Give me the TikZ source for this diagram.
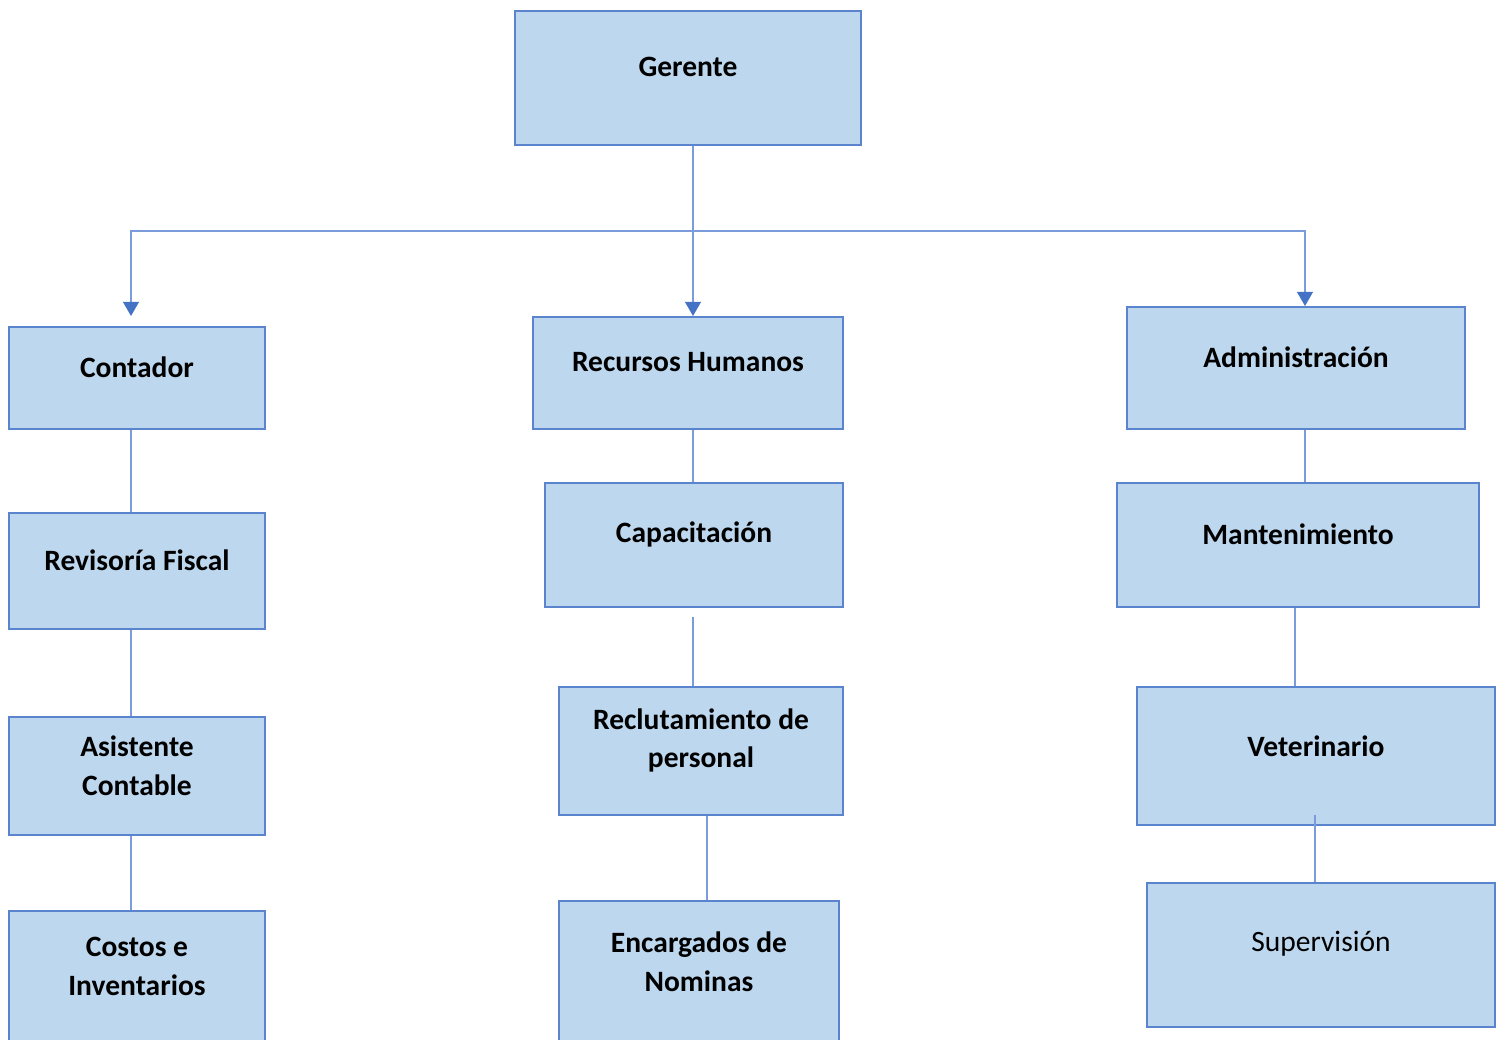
\documentclass[tikz,border=0pt]{standalone}
\usepackage{fontspec}
\setmainfont{Carlito}
\usepackage{tikz}
\usetikzlibrary{arrows.meta}
\definecolor{boxfill}{HTML}{BDD7EE}
\definecolor{boxline}{HTML}{5B84CF}
\definecolor{linkline}{HTML}{7B9CDA}
\definecolor{tipcol}{HTML}{4472C4}
\tikzset{
	orgbox/.style={draw=boxline, fill=boxfill, line width=0.85pt, inner sep=0pt},
	boxtext/.style={font=\fontsize{16.8}{22}\selectfont\bfseries, align=center, inner sep=0pt},
	plaintext/.style={font=\fontsize{16.8}{22}\selectfont, align=center, inner sep=0pt},
	link/.style={draw=linkline, line width=0.85pt},
	arr/.style={link, -{Triangle[width=9pt,length=8pt,color=tipcol]}}
}

\begin{document}
\begin{tikzpicture}[x=0.02cm, y=-0.02cm]
	\useasboundingbox (0,0) rectangle (1499,1040);
	\clip (0,0) rectangle (1499,1040);
	% top
	\node[orgbox, minimum width=6.92cm, minimum height=2.68cm] (ger) at (688,78) {};
	\node[boxtext] (ger-t) at (688,67) {Gerente};
	% first level
	\node[orgbox, minimum width=5.12cm, minimum height=2.04cm] (cont) at (137,378) {};
	\node[boxtext] (cont-t) at (137,367) {Contador};
	\node[orgbox, minimum width=6.2cm, minimum height=2.24cm] (rrhh) at (688,373) {};
	\node[boxtext] (rrhh-t) at (688,362) {Recursos Humanos};
	\node[orgbox, minimum width=6.76cm, minimum height=2.44cm] (adm) at (1296,368) {};
	\node[boxtext] (adm-t) at (1296,357) {Administración};
	% second level
	\node[orgbox, minimum width=5.12cm, minimum height=2.32cm] (rev) at (137,571) {};
	\node[boxtext] (rev-t) at (137,560) {Revisoría Fiscal};
	\node[orgbox, minimum width=5.96cm, minimum height=2.48cm] (cap) at (694,545) {};
	\node[boxtext] (cap-t) at (694,534) {Capacitación};
	\node[orgbox, minimum width=7.24cm, minimum height=2.48cm] (mant) at (1298,545) {};
	\node[boxtext] (mant-t) at (1298,534) {Mantenimiento};
	% third level
	\node[orgbox, minimum width=5.12cm, minimum height=2.36cm] (asis) at (137,776) {};
	\node[boxtext] (asis-t) at (137,765.5) {Asistente\\Contable};
	\node[orgbox, minimum width=5.68cm, minimum height=2.56cm] (recl) at (701,751) {};
	\node[boxtext] (recl-t) at (701,740.5) {Reclutamiento de\\personal};
	\node[orgbox, minimum width=7.16cm, minimum height=2.76cm] (vet) at (1316,756) {};
	\node[boxtext] (vet-t) at (1316,746) {Veterinario};
	% fourth level
	\node[orgbox, minimum width=5.12cm, minimum height=2.98cm] (cost) at (137,985.5) {};
	\node[boxtext] (cost-t) at (137,966.5) {Costos e\\Inventarios};
	\node[orgbox, minimum width=5.6cm, minimum height=3.18cm] (enc) at (699,980.5) {};
	\node[boxtext] (enc-t) at (699,961.5) {Encargados de\\Nominas};
	\node[orgbox, minimum width=6.96cm, minimum height=2.88cm] (sup) at (1321,955) {};
	\node[plaintext] (sup-t) at (1321,944) {Supervisión};
	% arrows from the top
	\coordinate (bus) at (693,231);
	\coordinate (tipc) at (131,316);
	\coordinate (tipr) at (693,316);
	\coordinate (tipa) at (1305,306);
	\draw[arr] (ger.south -| tipr) -- (tipr);
	\draw[arr] (bus) -| (tipc);
	\draw[arr] (bus) -| (tipa);
	% plain links
	\draw[link] (cont.south -| 131,0) -- (rev.north -| 131,0);
	\draw[link] (rev.south -| 131,0) -- (asis.north -| 131,0);
	\draw[link] (asis.south -| 131,0) -- (cost.north -| 131,0);
	\draw[link] (rrhh.south -| 693,0) -- (cap.north -| 693,0);
	\draw[link] (693,617) -- (recl.north -| 693,0);
	\draw[link] (recl.south -| 707,0) -- (enc.north -| 707,0);
	\draw[link] (adm.south -| 1305,0) -- (mant.north -| 1305,0);
	\draw[link] (mant.south -| 1295,0) -- (vet.north -| 1295,0);
	\draw[link] (1315,815) -- (sup.north -| 1315,0);
\end{tikzpicture}
\end{document}
